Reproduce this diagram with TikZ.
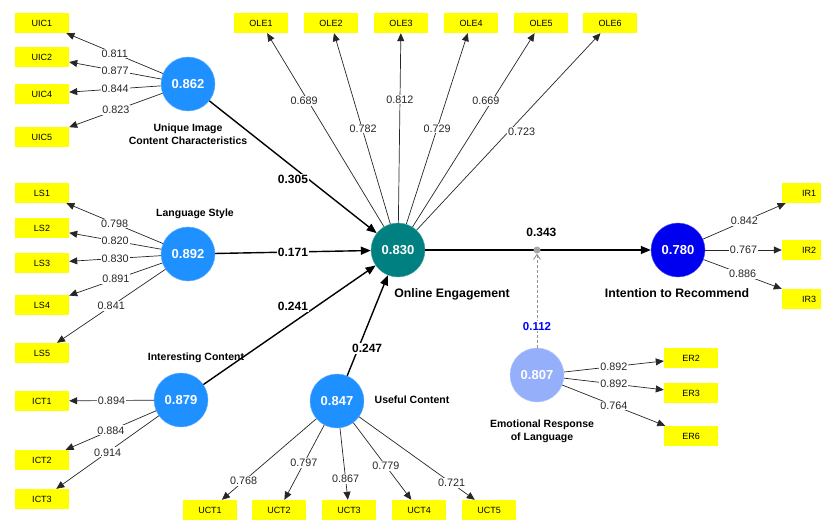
\documentclass[tikz,border=0pt]{standalone}
\usepackage{fontspec}
\setmainfont{Liberation Sans}
\usepackage{tikz}
\usetikzlibrary{arrows.meta}
\definecolor{PlsBlue}{RGB}{30,144,255}
\definecolor{PlsTeal}{RGB}{0,128,128}
\definecolor{PlsNavy}{RGB}{0,0,240}
\definecolor{PlsLight}{RGB}{150,175,250}
\definecolor{PlsYellow}{RGB}{255,255,0}
\definecolor{PlsGray}{RGB}{140,150,140}
\colorlet{loadfg}{black!85}
\tikzset{%
  pls coords/.style={x={(1pt,0pt)},y={(0pt,-1pt)}},
  indicator/.style={fill=PlsYellow, minimum width=54pt, minimum height=20pt, inner sep=0pt,
    font=\fontsize{9}{9}\selectfont},
  construct/.style={circle, fill=#1, draw=#1!70!white, minimum size=54pt, inner sep=0pt,
    text=white, font=\fontsize{13}{13}\selectfont\bfseries},
  construct name/.style={align=center, font=\fontsize{10.5}{13}\selectfont\bfseries},
  target name/.style={align=center, font=\fontsize{12.3}{14}\selectfont\bfseries},
  loading/.style={draw=loadfg, line width=0.7pt, -{Triangle[length=8pt,width=7pt]}},
  loading value/.style={fill=white, inner sep=1pt, text=loadfg, font=\fontsize{10.8}{11}\selectfont},
  path line/.style={draw=black, line width=1.4pt, -{Triangle[length=10pt,width=8pt]}},
  path value/.style={fill=white, inner sep=1pt, font=\fontsize{12}{12}\selectfont\bfseries},
  moderation/.style={draw=PlsGray, line width=0.9pt, dash pattern=on 3pt off 2pt,
    -{Straight Barb[length=5pt,width=7pt]}}
}

\begin{document}
\begin{tikzpicture}[pls coords]
  \clip (0,0) rectangle (821,519);
  % latent variables
  \node[construct=PlsBlue] (uic) at (188,84) {0.862};
  \node[construct=PlsBlue] (ls) at (188,254) {0.892};
  \node[construct=PlsBlue] (ic) at (181,400) {0.879};
  \node[construct=PlsBlue] (uc) at (337,401) {0.847};
  \node[construct=PlsTeal] (oe) at (398,250) {0.830};
  \node[construct=PlsNavy] (ir) at (678,250) {0.780};
  \node[construct=PlsLight] (er) at (537,375) {0.807};

  \node[construct name] (uic name) at (188,134) {Unique Image\\Content Characteristics};
  \node[construct name] (ls name) at (195,214) {Language Style};
  \node[construct name] (ic name) at (196,358) {Interesting Content};
  \node[construct name] (uc name) at (412,400) {Useful Content};
  \node[target name] (oe name) at (452,294) {Online Engagement};
  \node[target name] (ir name) at (677,293) {Intention to Recommend};
  \node[construct name] (er name) at (542,431) {Emotional Response\\of Language};

  % indicators
  \foreach \n/\y/\v in {1/23/0.811, 2/57/0.877, 4/94/0.844, 5/137/0.823} {
    \node[indicator] (uic\n) at (42,\y) {UIC\n};
    \draw[loading] (uic) -- node[loading value] {\v} (uic\n);
  }
  \foreach \n/\y/\v in {1/193/0.798, 2/228/0.820, 3/263/0.830, 4/305/0.891, 5/353/0.841} {
    \node[indicator] (ls\n) at (42,\y) {LS\n};
    \draw[loading] (ls) -- node[loading value] {\v} (ls\n);
  }
  \foreach \n/\y/\v in {1/401/0.894, 2/460/0.884, 3/499/0.914} {
    \node[indicator] (ict\n) at (42,\y) {ICT\n};
    \draw[loading] (ic) -- node[loading value] {\v} (ict\n);
  }
  \foreach \n/\x/\v/\p in {1/210/0.768/0.77, 2/279/0.797/0.51, 3/349/0.867/0.71, 4/419/0.779/0.56, 5/489/0.721/0.8} {
    \node[indicator] (uct\n) at (\x,510) {UCT\n};
    \draw[loading] (uc) -- node[loading value, pos=\p] {\v} (uct\n);
  }
  \foreach \n/\x/\v/\p/\dx in {1/261/0.689/0.65/-4, 2/331/0.782/0.5/1, 3/401/0.812/0.65/0,
      4/471/0.729/0.5/0, 5/541/0.669/0.65/-6, 6/610/0.723/0.5/13} {
    \node[indicator] (ole\n) at (\x,23) {OLE\n};
    \draw[loading] (oe) -- node[loading value, pos=\p, xshift=\dx pt] {\v} (ole\n);
  }
  \foreach \n/\y/\v in {1/193/0.842, 2/250/0.767, 3/299/0.886} {
    \node[indicator] (ir\n) at (809,\y) {IR\n};
    \draw[loading] (ir) -- node[loading value] {\v} (ir\n);
  }
  \foreach \n/\y/\v in {2/358/0.892, 3/393/0.892, 6/436/0.764} {
    \node[indicator] (er\n) at (691,\y) {ER\n};
    \draw[loading] (er) -- node[loading value] {\v} (er\n);
  }

  % structural paths
  \draw[path line] (uic) -- node[path value, yshift=-12pt] {0.305} (oe);
  \draw[path line] (ls) -- node[path value] {0.171} (oe);
  \draw[path line] (ic) -- node[path value, pos=.52, yshift=16pt] {0.241} (oe);
  \draw[path line] (uc) -- node[path value, pos=.27, xshift=9pt] {0.247} (oe);
  \draw[path line] (oe) -- node[path value, pos=.515, yshift=18pt] {0.343} (ir);

  % moderating effect
  \node[circle, fill=gray!70, inner sep=0pt, minimum size=7pt] (mod) at (537,250) {};
  \draw[moderation] (er) -- node[path value, pos=.23, text=blue, font=\fontsize{11.5}{12}\selectfont\bfseries] {0.112} (mod);
\end{tikzpicture}
\end{document}
